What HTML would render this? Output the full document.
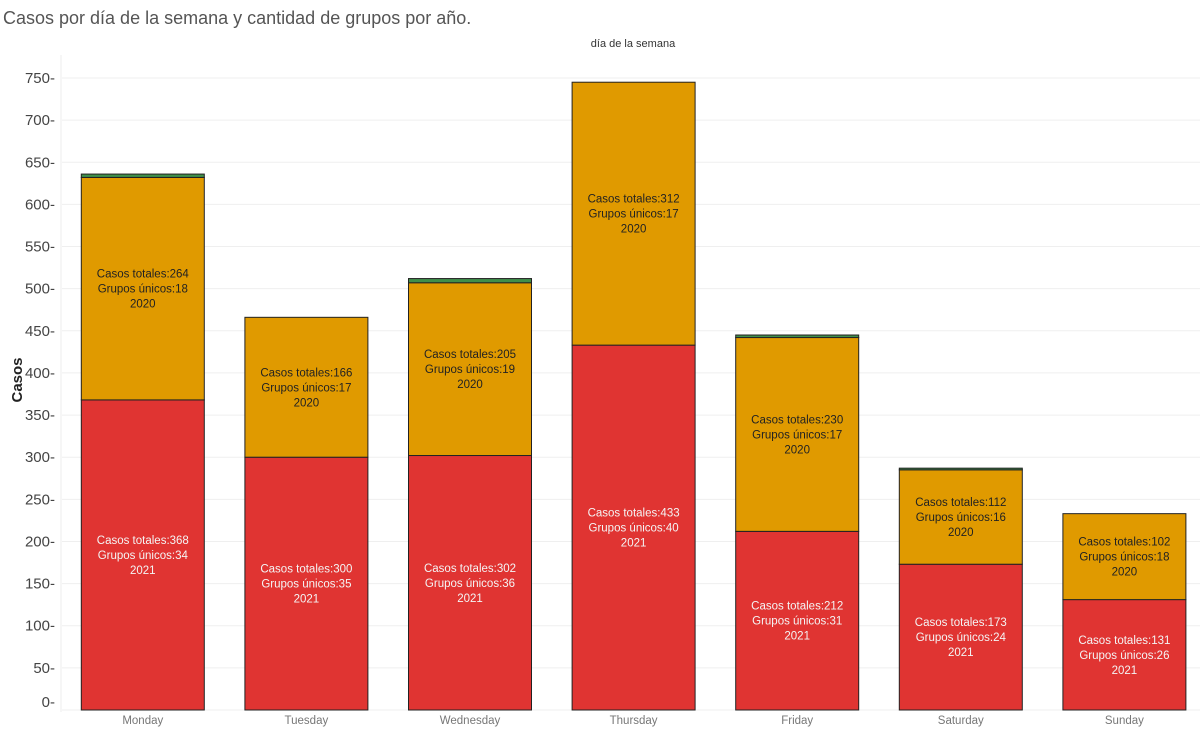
<!DOCTYPE html>
<html><head><meta charset="utf-8"><style>
body{margin:0;background:#fff;font-family:"Liberation Sans",sans-serif;}
svg text{font-family:"Liberation Sans",sans-serif;}
</style></head><body>
<svg id="chart" width="1200" height="732" xmlns="http://www.w3.org/2000/svg">
<text x="3" y="24" font-size="18" fill="#555">Casos por día de la semana y cantidad de grupos por año.</text>
<text x="633" y="47" font-size="11" fill="#333" text-anchor="middle">día de la semana</text>
<text transform="translate(22,380) rotate(-90)" font-size="15" font-weight="bold" fill="#222" text-anchor="middle">Casos</text>
<g id="grid"></g><g id="bars"></g><g id="labels"></g>
</svg>
<script>
const days=["Monday","Tuesday","Wednesday","Thursday","Friday","Saturday","Sunday"];
const cases2021=[368,300,302,433,212,173,131];
const groups2021=[34,35,36,40,31,24,26];
const cases2020=[264,166,205,312,230,112,102];
const groups2020=[18,17,19,17,17,16,18];
const casesOther=[4,0,5,0,3,2,0];
const yTicks=[0,50,100,150,200,250,300,350,400,450,500,550,600,650,700,750];
const NS="http://www.w3.org/2000/svg";
const y0=710, k=632/750, bandX0=62, band=163.6, bw=123;
const y=v=>y0-v*k;
const x=i=>bandX0+i*band+(band-bw)/2-1;
function mk(t,a,p){const e=document.createElementNS(NS,t);for(const n in a)e.setAttribute(n,a[n]);p.appendChild(e);return e;}
const g=document.getElementById('grid'),b=document.getElementById('bars'),l=document.getElementById('labels');
mk('line',{x1:61,x2:61,y1:55,y2:712,stroke:'#eee'},g);
yTicks.forEach(t=>{
 const ln=mk('line',{x1:62,x2:1200,y1:y(t),y2:y(t),stroke:'#efefef'},g);
 
 
 const tx=mk('text',{x:55,y:t===0?y(t)-3:y(t)+5,'font-size':15,fill:'#444','text-anchor':'end'},g);
 tx.textContent=t+'-';
 
 
});
function seg(i,lo,hi,fill,name){
 if(hi<=lo)return;
 const r=mk('rect',{x:x(i),y:y(hi),width:bw,height:y(lo)-y(hi),fill:fill,stroke:'#222','stroke-width':1},b);
 
 
}
function lab(i,mid,lines,col){
 lines.forEach((s,j)=>{
  const t=mk('text',{x:x(i)+bw/2,y:y(mid)+(j-1)*15+4,'font-size':11.5,fill:col,'text-anchor':'middle'},l);
  t.textContent=s;
  
  
 });
}
days.forEach((d,i)=>{
 const a=cases2021[i],c=cases2020[i],o=casesOther[i];
 seg(i,0,a,'#e03432','bar-2021-'+d.toLowerCase());
 seg(i,a,a+c,'#e09a00','bar-2020-'+d.toLowerCase());
 seg(i,a+c,a+c+o,'#3f8f4a','bar-other-'+d.toLowerCase());
 lab(i,a/2,['Casos totales:'+a,'Grupos únicos:'+groups2021[i],'2021'],'#f4f4f4');
 lab(i,a+c/2,['Casos totales:'+c,'Grupos únicos:'+groups2020[i],'2020'],'#222');
 const t=mk('text',{x:x(i)+bw/2,y:724,'font-size':11.5,fill:'#777','text-anchor':'middle'},l);
 t.textContent=d;
 
 
});
</script>
</body></html>
